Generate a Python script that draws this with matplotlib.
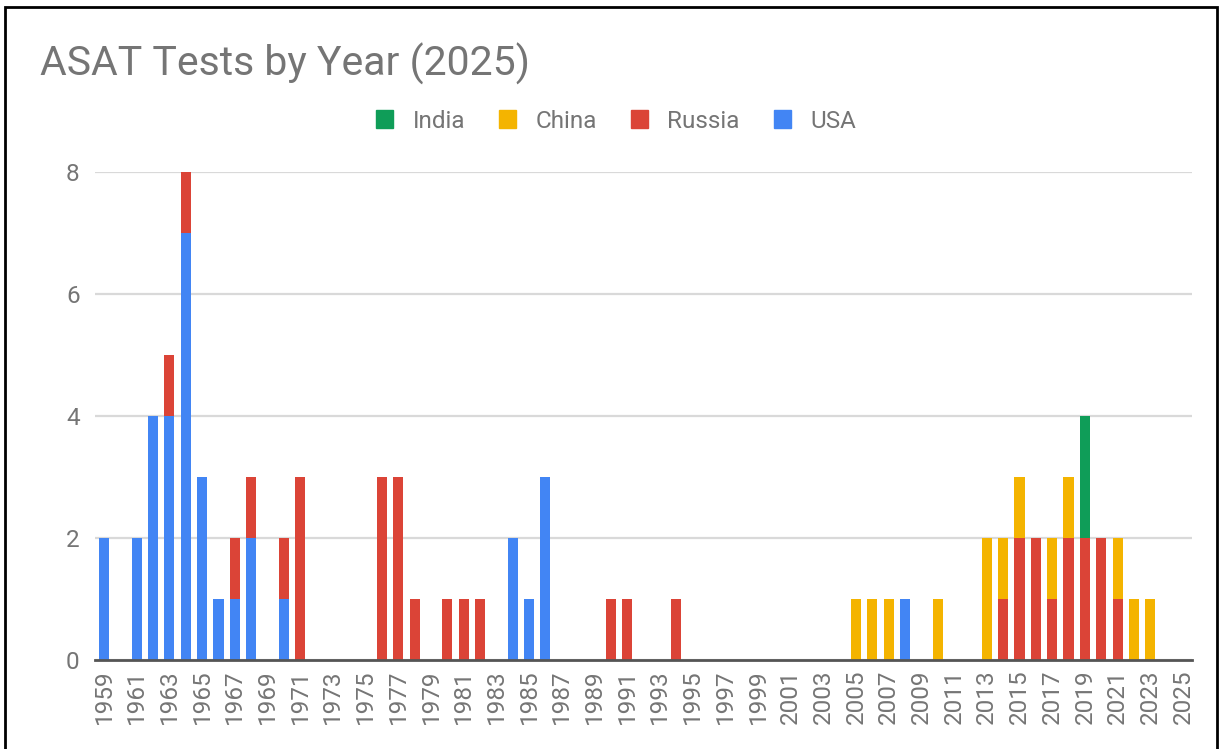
import numpy as np
import matplotlib
matplotlib.use("Agg")
import matplotlib.pyplot as plt
from matplotlib.patches import Patch, Rectangle

plt.rcParams['font.family'] = ['Roboto', 'DejaVu Sans']

# years with at least one test
years = [1959, 1961, 1962, 1963, 1964, 1965, 1966, 1967, 1968, 1970,
         1971, 1976, 1977, 1978, 1980, 1981, 1982, 1984, 1985, 1986,
         1990, 1991, 1994, 2005, 2006, 2007, 2008, 2010, 2013, 2014,
         2015, 2016, 2017, 2018, 2019, 2020, 2021, 2022, 2023]
usa    = [2, 2, 4, 4, 7, 3, 1, 1, 2, 1,
          0, 0, 0, 0, 0, 0, 0, 2, 1, 3,
          0, 0, 0, 0, 0, 0, 1, 0, 0, 0,
          0, 0, 0, 0, 0, 0, 0, 0, 0]
russia = [0, 0, 0, 1, 1, 0, 0, 1, 1, 1,
          3, 3, 3, 1, 1, 1, 1, 0, 0, 0,
          1, 1, 1, 0, 0, 0, 0, 0, 0, 1,
          2, 2, 1, 2, 2, 2, 1, 0, 0]
china  = [0, 0, 0, 0, 0, 0, 0, 0, 0, 0,
          0, 0, 0, 0, 0, 0, 0, 0, 0, 0,
          0, 0, 0, 1, 1, 1, 0, 1, 2, 1,
          1, 0, 1, 1, 0, 0, 1, 1, 1]
india  = [0, 0, 0, 0, 0, 0, 0, 0, 0, 0,
          0, 0, 0, 0, 0, 0, 0, 0, 0, 0,
          0, 0, 0, 0, 0, 0, 0, 0, 0, 0,
          0, 0, 0, 0, 2, 0, 0, 0, 0]

tick_years = list(range(1959, 2026, 2))

c_usa, c_rus, c_chn, c_ind = '#4285F4', '#DB4437', '#F4B400', '#0F9D58'
grey = '#757575'

W, H = 1221, 749
fig = plt.figure(figsize=(W/100, H/100), dpi=100)
ax = fig.add_axes([95/W, 1-660/H, (1192-95)/W, (660-172)/H])

x = np.array(years)
usa_a, rus_a, chn_a, ind_a = map(np.array, (usa, russia, china, india))
bw = 0.62
ax.bar(x, usa_a, bw, color=c_usa, zorder=3)
ax.bar(x, rus_a, bw, bottom=usa_a, color=c_rus, zorder=3)
ax.bar(x, chn_a, bw, bottom=usa_a+rus_a, color=c_chn, zorder=3)
ax.bar(x, ind_a, bw, bottom=usa_a+rus_a+chn_a, color=c_ind, zorder=3)

ax.set_xlim(1958.45, 2025.55)
ax.set_ylim(0, 8)
ax.set_yticks([0, 2, 4, 6, 8])
ax.set_xticks(tick_years)
ax.set_xticklabels([str(y) for y in tick_years], rotation=90)
ax.tick_params(axis='both', length=0, labelsize=17.5, labelcolor=grey)
ax.tick_params(axis='y', pad=11)
ax.tick_params(axis='x', pad=7)
ax.grid(axis='y', color='#d9d9d9', lw=1.6, zorder=0)
for s in ['top', 'right', 'left']:
    ax.spines[s].set_visible(False)
ax.spines['bottom'].set_color('#555555')
ax.spines['bottom'].set_linewidth(2)
ax.spines['bottom'].set_zorder(4)

fig.text(40/W, 1-64/H, 'ASAT Tests by Year (2025)', fontsize=29.5, color=grey,
         va='center', ha='left')

handles = [Patch(color=c_ind, label='India'), Patch(color=c_chn, label='China'),
           Patch(color=c_rus, label='Russia'), Patch(color=c_usa, label='USA')]
fig.legend(handles=handles, loc='center', bbox_to_anchor=(616/W, 1-121/H), ncol=4,
           frameon=False, fontsize=17.5, labelcolor=grey, handlelength=0.7,
           handleheight=0.7, handletextpad=0.8, columnspacing=1.4)

fig.patches.append(Rectangle((5/W, -0.05), (1217-5)/W, (1-7/H)+0.05,
                             transform=fig.transFigure, fill=False,
                             edgecolor='black', lw=2))

fig.savefig('out.png', dpi=100)
